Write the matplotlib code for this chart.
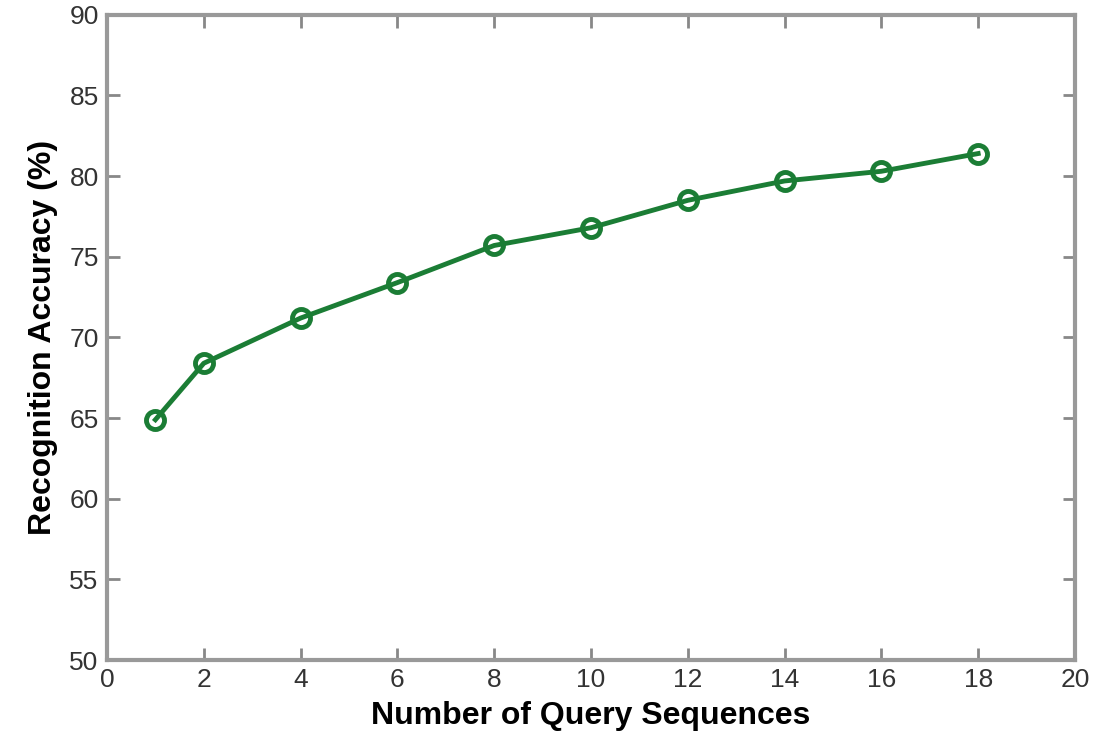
import matplotlib
matplotlib.use("Agg")
import matplotlib.pyplot as plt

queries = [1, 2, 4, 6, 8, 10, 12, 14, 16, 18]
accuracy = [64.9, 68.4, 71.2, 73.4, 75.7, 76.8, 78.5, 79.7, 80.3, 81.4]
xticks = [0, 2, 4, 6, 8, 10, 12, 14, 16, 18, 20]
yticks = [50, 55, 60, 65, 70, 75, 80, 85, 90]

plt.rcParams['font.family'] = ['Liberation Sans', 'DejaVu Sans']

fig = plt.figure(figsize=(10.95, 7.4), dpi=100)
ax = fig.add_axes([0.0977, 0.108, 0.884, 0.872])

ax.plot(queries, accuracy, color='#1b7d35', linewidth=3.5, marker='o',
        markersize=13, markerfacecolor='none', markeredgewidth=3.5,
        markeredgecolor='#1b7d35')

ax.set_xlim(0, 20)
ax.set_ylim(50, 90)
ax.set_xticks(xticks)
ax.set_yticks(yticks)
ax.tick_params(direction='in', length=9, width=2, color='#888888',
               labelsize=19, labelcolor='#333333', pad=6,
               top=True, right=True)
for s in ax.spines.values():
    s.set_color('#999999')
    s.set_linewidth(3)

ax.set_xlabel('Number of Query Sequences', fontsize=23, fontweight='bold', labelpad=6)
ax.set_ylabel('Recognition Accuracy (%)', fontsize=23, fontweight='bold', labelpad=8)

fig.savefig('out.png', dpi=100, facecolor='white')
